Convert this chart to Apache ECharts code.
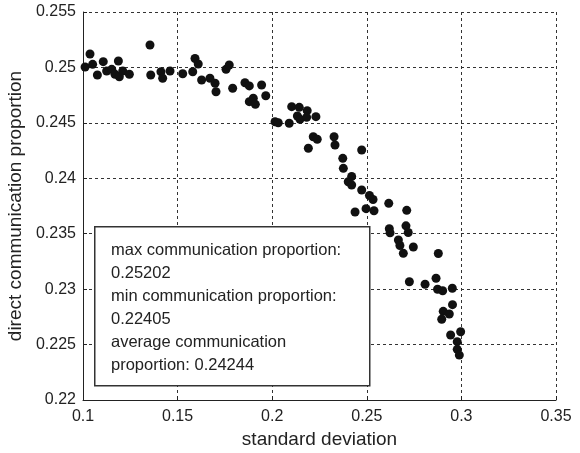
<!DOCTYPE html>
<html>
<head>
<meta charset="utf-8">
<script src="https://cdn.jsdelivr.net/npm/echarts@6/dist/echarts.min.js"></script>
<style>
  html, body { margin: 0; padding: 0; background: #fff; }
  #chart { width: 580px; height: 453px; }
</style>
</head>
<body>
<div id="chart"></div>
<script>
// standard deviation (x) and direct communication proportion (y)
const stdDev = [
  0.1011, 0.1037, 0.1051, 0.1076, 0.1107, 0.1125, 0.1152, 0.1169, 0.1187, 0.1192,
  0.1210, 0.1245, 0.1354, 0.1358, 0.1412, 0.1421, 0.1460, 0.1527, 0.1580, 0.1592,
  0.1609, 0.1627, 0.1671, 0.1698, 0.1703, 0.1756, 0.1773, 0.1791, 0.1856, 0.1879,
  0.1944, 0.1879, 0.1900, 0.1911, 0.1966, 0.2015, 0.2032, 0.2090, 0.2103, 0.2143,
  0.2133, 0.2147, 0.2185, 0.2182, 0.2231, 0.2217, 0.2238, 0.2191, 0.2327, 0.2332,
  0.2473, 0.2373, 0.2376, 0.2420, 0.2402, 0.2420, 0.2473, 0.2514, 0.2533, 0.2616,
  0.2438, 0.2496, 0.2538, 0.2711, 0.2619, 0.2623, 0.2707, 0.2719, 0.2667, 0.2675,
  0.2746, 0.2693, 0.2878, 0.2725, 0.2808, 0.2866, 0.2874, 0.2901, 0.2952, 0.2953,
  0.2904, 0.2936, 0.2896, 0.2943, 0.2996, 0.2978, 0.2978, 0.2989
];
const commProp = [
  0.25004, 0.25121, 0.25028, 0.24932, 0.25052, 0.24968, 0.24983, 0.24938, 0.25058, 0.24916,
  0.24968, 0.24938, 0.25202, 0.24932, 0.24961, 0.24902, 0.24968, 0.24943, 0.24961, 0.25081,
  0.25031, 0.24887, 0.24902, 0.24857, 0.24781, 0.24983, 0.25022, 0.24812, 0.24862, 0.24833,
  0.24841, 0.24691, 0.24722, 0.24667, 0.24745, 0.24510, 0.24501, 0.24496, 0.24646, 0.24640,
  0.24562, 0.24532, 0.24610, 0.24550, 0.24556, 0.24375, 0.24352, 0.24271, 0.24375, 0.24300,
  0.24255, 0.24180, 0.24090, 0.24016, 0.23969, 0.23939, 0.23894, 0.23845, 0.23809, 0.23774,
  0.23696, 0.23726, 0.23707, 0.23711, 0.23545, 0.23508, 0.23571, 0.23511, 0.23443, 0.23394,
  0.23380, 0.23323, 0.23322, 0.23067, 0.23044, 0.23098, 0.22999, 0.22986, 0.23008, 0.22860,
  0.22800, 0.22776, 0.22728, 0.22586, 0.22616, 0.22526, 0.22457, 0.22405
];
const boxLines = [
  'max communication proportion:',
  '0.25202',
  'min communication proportion:',
  '0.22405',
  'average communication',
  'proportion: 0.24244'
];

const font = 'Liberation Sans, Arial, Helvetica, sans-serif';
const chart = echarts.init(document.getElementById('chart'));

const gridLine = { show: true, lineStyle: { color: '#333', type: [3, 3], width: 1 } };
const fmt = v => String(parseFloat(v.toFixed(3)));

chart.setOption({
  animation: false,
  textStyle: { fontFamily: font },
  grid: { left: 83, right: 24, top: 12, bottom: 53, containLabel: false, outerBoundsMode: 'none' },
  xAxis: {
    type: 'value',
    min: 0.1,
    max: 0.35,
    interval: 0.05,
    name: 'standard deviation',
    nameLocation: 'middle',
    nameGap: 28,
    nameTextStyle: { fontSize: 19, color: '#222', fontFamily: font },
    axisLine: { show: true, lineStyle: { color: '#222', width: 1 } },
    axisTick: { show: true, inside: true, length: 4, lineStyle: { color: '#222' } },
    axisLabel: { fontSize: 16, color: '#222', margin: 9, formatter: fmt, fontFamily: font },
    splitLine: gridLine
  },
  yAxis: {
    type: 'value',
    min: 0.22,
    max: 0.255,
    interval: 0.005,
    name: 'direct communication proportion',
    nameLocation: 'middle',
    nameGap: 56,
    nameTextStyle: { fontSize: 19, color: '#222', fontFamily: font },
    axisLine: { show: true, lineStyle: { color: '#222', width: 1 } },
    axisTick: { show: true, inside: true, length: 4, lineStyle: { color: '#222' } },
    axisLabel: { fontSize: 16, color: '#222', margin: 7, formatter: fmt, fontFamily: font },
    splitLine: gridLine
  },
  series: [{
    type: 'scatter',
    data: stdDev.map((x, i) => [x, commProp[i]]),
    symbol: 'circle',
    symbolSize: 9,
    itemStyle: { color: '#111', opacity: 1 },
    z: 2
  }],
  graphic: [{
    type: 'rect',
    left: 94,
    top: 226,
    z: 100,
    shape: { x: 0, y: 0, width: 275, height: 159 },
    style: { fill: '#ffffff', stroke: '#333', lineWidth: 1.5 }
  }, {
    type: 'text',
    left: 111,
    top: 239,
    z: 101,
    style: {
      text: boxLines.join('\n'),
      font: '16.5px ' + font,
      lineHeight: 23,
      fill: '#222'
    }
  }]
});
</script>
</body>
</html>
